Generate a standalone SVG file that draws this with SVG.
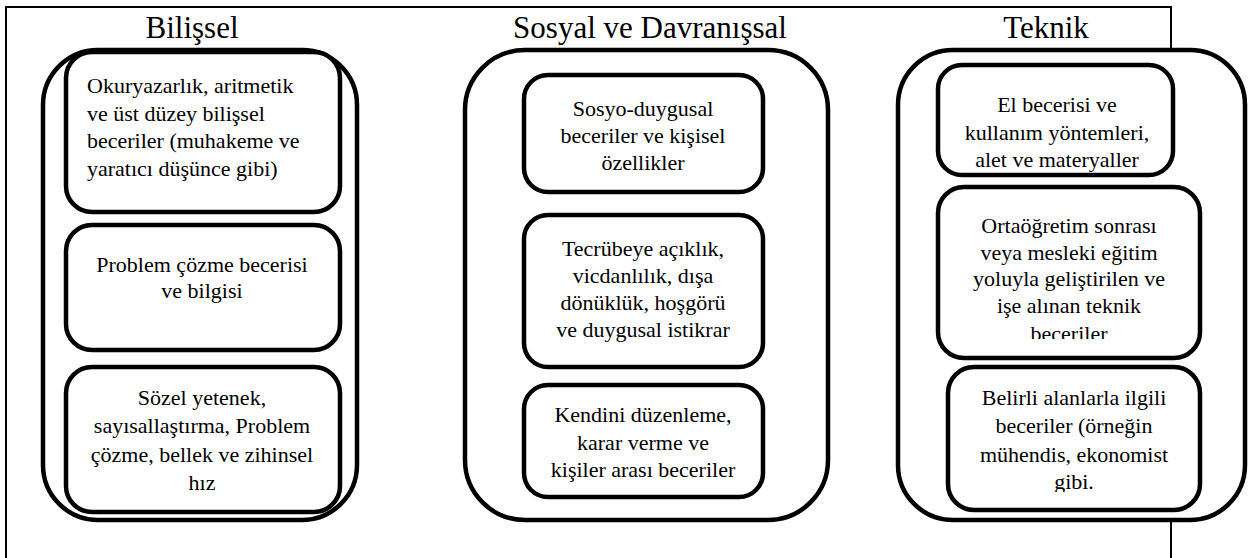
<svg xmlns="http://www.w3.org/2000/svg" width="1253" height="558" viewBox="0 0 1253 558">
<style>
text{font-family:'Liberation Serif','DejaVu Serif','Times New Roman',Times,serif;fill:#000}
.title{font-size:31px;text-anchor:middle}
.t{font-size:22px;text-anchor:middle}
.tl{font-size:22px;text-anchor:start}
.outer{fill:#fff;stroke:#000;stroke-width:4.5}
.inner{fill:#fff;stroke:#000;stroke-width:4.5}
.frame{fill:none;stroke:#000;stroke-width:2}
</style>
<defs>
<clipPath id="c2"><rect x="940" y="189" width="258" height="150"/></clipPath>
<clipPath id="c3"><rect x="950" y="369" width="248" height="123"/></clipPath>
</defs>
<rect class="frame" x="6" y="7" width="1165" height="600"/>
<g font-family="Liberation Serif, DejaVu Serif, serif">
<g id="bilissel">
<text class="title" x="192" y="38">Bilişsel</text>
<rect class="outer" x="43" y="50" width="314" height="470" rx="55" ry="55"/>
<g id="b1">
<rect class="inner" x="66" y="52" width="274" height="160" rx="26" ry="26"/>
<text class="tl" x="87" y="93">Okuryazarlık, aritmetik</text>
<text class="tl" x="87" y="121">ve üst düzey bilişsel</text>
<text class="tl" x="87" y="148">beceriler (muhakeme ve</text>
<text class="tl" x="87" y="176">yaratıcı düşünce gibi)</text>
</g>
<g id="b2">
<rect class="inner" x="66" y="225" width="274" height="125" rx="26" ry="26"/>
<text class="t" x="202" y="272">Problem çözme becerisi</text>
<text class="t" x="202" y="298">ve bilgisi</text>
</g>
<g id="b3">
<rect class="inner" x="66" y="367" width="274" height="145" rx="26" ry="26"/>
<text class="t" x="202" y="405">Sözel yetenek,</text>
<text class="t" x="202" y="433">sayısallaştırma, Problem</text>
<text class="t" x="202" y="462">çözme, bellek ve zihinsel</text>
<text class="t" x="202" y="490">hız</text>
</g>
</g>
<g id="sosyal">
<text class="title" x="650" y="38">Sosyal ve Davranışsal</text>
<rect class="outer" x="465" y="50" width="363" height="470" rx="60" ry="60"/>
<g id="s1">
<rect class="inner" x="524" y="75" width="239" height="117" rx="24" ry="24"/>
<text class="t" x="643" y="116">Sosyo-duygusal</text>
<text class="t" x="643" y="143">beceriler ve kişisel</text>
<text class="t" x="643" y="170">özellikler</text>
</g>
<g id="s2">
<rect class="inner" x="524" y="215" width="239" height="152" rx="24" ry="24"/>
<text class="t" x="643" y="256">Tecrübeye açıklık,</text>
<text class="t" x="643" y="283">vicdanlılık, dışa</text>
<text class="t" x="643" y="310">dönüklük, hoşgörü</text>
<text class="t" x="643" y="337">ve duygusal istikrar</text>
</g>
<g id="s3">
<rect class="inner" x="524" y="385" width="239" height="112" rx="24" ry="24"/>
<text class="t" x="643" y="422">Kendini düzenleme,</text>
<text class="t" x="643" y="450">karar verme ve</text>
<text class="t" x="643" y="477">kişiler arası beceriler</text>
</g>
</g>
<g id="teknik">
<text class="title" x="1046" y="38">Teknik</text>
<rect class="outer" x="898" y="50" width="347" height="470" rx="55" ry="55"/>
<g id="k1">
<rect class="inner" x="938" y="65" width="235" height="110" rx="24" ry="24"/>
<text class="t" x="1057" y="112">El becerisi ve</text>
<text class="t" x="1057" y="140">kullanım yöntemleri,</text>
<text class="t" x="1057" y="167">alet ve materyaller</text>
</g>
<g id="k2">
<rect class="inner" x="938" y="187" width="262" height="171" rx="26" ry="26"/>
<g clip-path="url(#c2)">
<text class="t" x="1069" y="233">Ortaöğretim sonrası</text>
<text class="t" x="1069" y="260">veya mesleki eğitim</text>
<text class="t" x="1069" y="286">yoluyla geliştirilen ve</text>
<text class="t" x="1069" y="313">işe alınan teknik</text>
<text class="t" x="1069" y="341">beceriler</text>
</g>
</g>
<g id="k3">
<rect class="inner" x="948" y="367" width="252" height="143" rx="26" ry="26"/>
<g clip-path="url(#c3)">
<text class="t" x="1074" y="405">Belirli alanlarla ilgili</text>
<text class="t" x="1074" y="433">beceriler (örneğin</text>
<text class="t" x="1074" y="462">mühendis, ekonomist</text>
<text class="t" x="1074" y="489">gibi.</text>
</g>
</g>
</g>
</g>
<g id="connectors"></g>
</svg>
